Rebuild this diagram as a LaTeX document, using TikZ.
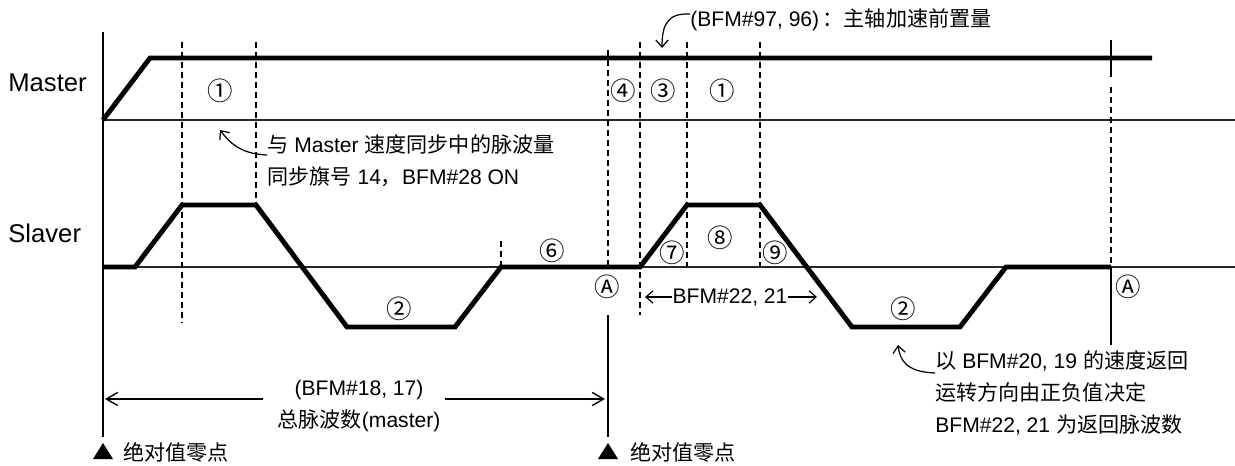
\documentclass[tikz,border=0pt]{standalone}
\usepackage{fontspec}
\setmainfont{Liberation Sans}
\newfontfamily\cjk{Noto Sans CJK SC}
\newcommand\zh[1]{{\cjk #1}}
\usetikzlibrary{arrows.meta}

\begin{document}
\begin{tikzpicture}[
    x=0.02cm, y=-0.02cm,
    every node/.style={font=\fontsize{12}{18.1}\selectfont, inner sep=0pt},
    lbl/.style={font=\fontsize{14.6}{16}\selectfont, anchor=base west},
    num/.style={font=\cjk\fontsize{14.5}{16}\selectfont},
    note/.style={align=left, anchor=west},
    axis/.style={line width=1.1pt},
    base/.style={line width=0.9pt, black!85},
    wave/.style={line width=2.8pt},
    guide/.style={line width=0.9pt, dash pattern=on 3.4pt off 2.3pt},
    arr/.style={-{Straight Barb[length=4pt, width=7pt]}, line width=0.7pt},
    bigarr/.style={-{Straight Barb[length=6.5pt, width=7.5pt]}, line width=0.8pt}
  ]
  \useasboundingbox (0,0) rectangle (1235,466);

  % axes and base lines
  \draw[axis] (103,32) -- (103,437);
  \draw[base] (103,120) -- (1235,120);
  \draw[base] (103,267) -- (1235,267);
  \node[lbl] (master) at (8,92) {Master};
  \node[lbl] (slaver) at (8,242) {Slaver};

  % speed profiles
  \draw[wave] (103,120) -- (150,58) -- (1152,58);
  \draw[wave] (103,267) -- (135,267) -- (182,205) -- (256,205) -- (347,327)
    -- (455,327) -- (501,267) -- (640,267) -- (687,205) -- (760,205)
    -- (852,327) -- (960,327) -- (1006,267) -- (1111,267);

  % dashed guides
  \draw[guide] (182,42) -- (182,323);
  \draw[guide] (256,42) -- (256,205);
  \draw[guide] (501,241) -- (501,267);
  \draw[guide, line width=0.7pt] (608,50) -- (608,265);
  \draw[guide] (640,42) -- (640,315);
  \draw[guide] (687,42) -- (687,267);
  \draw[guide] (760,42) -- (760,267);
  \draw[guide] (1111,87) -- (1111,267);
  \draw[axis] (1111,40) -- (1111,77);
  \draw[axis] (1111,267) -- (1111,345);
  \draw[axis] (608,315) -- (608,437);

  % circled labels
  \node[num] (m1)  at (220,91) {①};
  \node[num] (m4)  at (623,91) {④};
  \node[num] (m3)  at (663,91) {③};
  \node[num] (m1b) at (722,91) {①};
  \node[num] (s2)  at (399,309) {②};
  \node[num] (s6)  at (552,251) {⑥};
  \node[num] (sA)  at (607,287) {Ⓐ};
  \node[num] (s7)  at (672,253) {⑦};
  \node[num] (s8)  at (720,238) {⑧};
  \node[num] (s9)  at (775,253) {⑨};
  \node[num] (s2b) at (903,309) {②};
  \node[num] (sAb) at (1128,287) {Ⓐ};

  % notes
  \node[note] (sync) at (267,161)
    {\zh{与} Master \zh{速度同步中的脉波量}\\\zh{同步旗号} 14\zh{，}BFM\#28 ON};
  \coordinate (syncTip) at (220,130);
  \draw[arr] (sync.west |- 0,155) .. controls (240,154) and (229,142) .. (syncTip);

  \node[anchor=west] (pre) at (690,20) {(BFM\#97, 96)\,\zh{：}\zh{主轴加速前置量}};
  \coordinate (preTip) at (662,48);
  \draw[arr] (pre.west |- 0,14) .. controls (668,13) and (662,24) .. (preTip);

  \node[note] (ret) at (935,393)
    {\zh{以} BFM\#20, 19 \zh{的速度返回}\\\zh{运转方向由正负值决定}\\BFM\#22, 21 \zh{为返回脉波数}};
  \coordinate (retTip) at (898,345);
  \draw[arr] (ret.west |- 0,373) .. controls (906,372) and (900,360) .. (retTip);

  \node (back) at (730,297) {BFM\#22, 21};
  \coordinate (backL) at (645,297);
  \coordinate (backR) at (817,297);
  \draw[arr] (back.west) -- (backL);
  \draw[arr] (back.east) -- (backR);

  % total pulses
  \node[align=center] (total) at (359,406) {(BFM\#18, 17)\\\zh{总脉波数}(master)};
  \coordinate (totL0) at (263,399);
  \coordinate (totL)  at (105,399);
  \coordinate (totR0) at (445,399);
  \coordinate (totR)  at (605,399);
  \draw[bigarr] (totL0) -- (totL);
  \draw[bigarr] (totR0) -- (totR);

  % zero points
  \fill (103,443) -- (113,459) -- (93,459) -- cycle;
  \node[anchor=west] (zero1) at (123,452) {\zh{绝对值零点}};
  \fill (608,443) -- (618,459) -- (598,459) -- cycle;
  \node[anchor=west] (zero2) at (630,452) {\zh{绝对值零点}};
\end{tikzpicture}
\end{document}
